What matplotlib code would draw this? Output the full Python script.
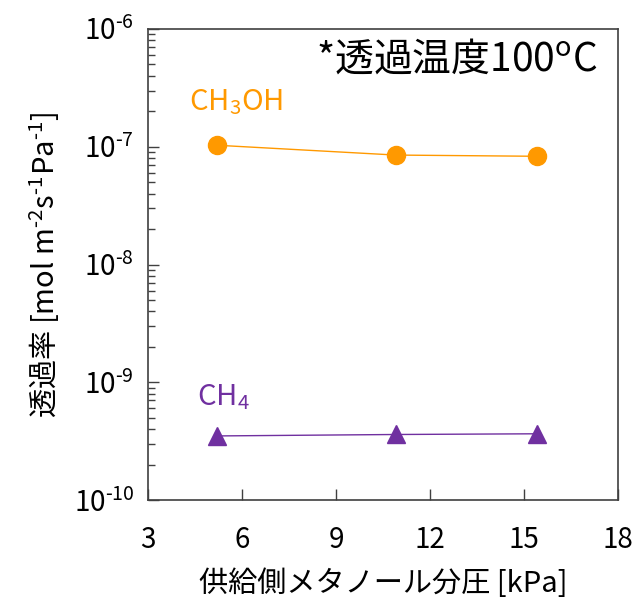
import matplotlib
matplotlib.use("Agg")
import matplotlib.pyplot as plt
from matplotlib.ticker import LogLocator, FixedLocator, FuncFormatter
import numpy as np

plt.rcParams['font.family'] = ['Noto Sans CJK JP', 'DejaVu Sans']
plt.rcParams['mathtext.fontset'] = 'custom'
plt.rcParams['mathtext.rm'] = 'Noto Sans CJK JP'
plt.rcParams['mathtext.it'] = 'Noto Sans CJK JP'
plt.rcParams['mathtext.bf'] = 'Noto Sans CJK JP'
plt.rcParams['axes.unicode_minus'] = False

# 供給側メタノール分圧 [kPa]
pressure = [5.2, 10.9, 15.4]
ch3oh = [1.03e-7, 8.5e-8, 8.3e-8]
ch4 = [3.5e-10, 3.6e-10, 3.65e-10]

x_ticks = [3, 6, 9, 12, 15, 18]

fig = plt.figure(figsize=(6.38, 6.03), dpi=100)
ax = fig.add_axes([148 / 638, 1 - 500 / 603, 470 / 638, 471 / 603])

ax.plot(pressure, ch3oh, color="#FF9900", lw=1.0, marker="o", ms=13)
ax.plot(pressure, ch4, color="#7030A0", lw=1.0, marker="^", ms=13)

ax.set_yscale("log")
ax.set_ylim(1e-10, 1e-6)
ax.set_xlim(3, 18)
ax.xaxis.set_major_locator(FixedLocator(x_ticks))
ax.yaxis.set_major_locator(LogLocator(base=10, numticks=10))
ax.yaxis.set_minor_locator(LogLocator(base=10, subs=range(2, 10), numticks=10))
ax.yaxis.set_major_formatter(FuncFormatter(
    lambda v, p: "10$^{\\text{-%d}}$" % round(-np.log10(v))))

for s in ax.spines.values():
    s.set_color("#404040")
    s.set_linewidth(1.2)
ax.tick_params(which="both", direction="in", colors="#404040", labelcolor="black",
               labelsize=20)
ax.tick_params(axis="y", which="major", length=8, width=1.0, pad=10)
ax.tick_params(axis="y", which="minor", length=5, width=1.0)
ax.tick_params(axis="x", which="major", length=8, width=1.0, pad=18)

ax.text(0.957, 0.935, "*透過温度100$^{\\rm o}$C", transform=ax.transAxes,
        ha="right", va="center", fontsize=28)
ax.text(5.8, 2.4e-7, "CH$_3$OH", color="#FF9900", ha="center", va="center", fontsize=21)
ax.text(5.4, 7.5e-10, "CH$_4$", color="#7030A0", ha="center", va="center", fontsize=21)

ax.set_xlabel("供給側メタノール分圧 [kPa]", fontsize=21, labelpad=10)
ax.set_ylabel("透過率 [mol m$^{\\text{-2}}$s$^{\\text{-1}}$Pa$^{\\text{-1}}$]",
              fontsize=21, labelpad=8)

fig.savefig("out.png", dpi=100)
